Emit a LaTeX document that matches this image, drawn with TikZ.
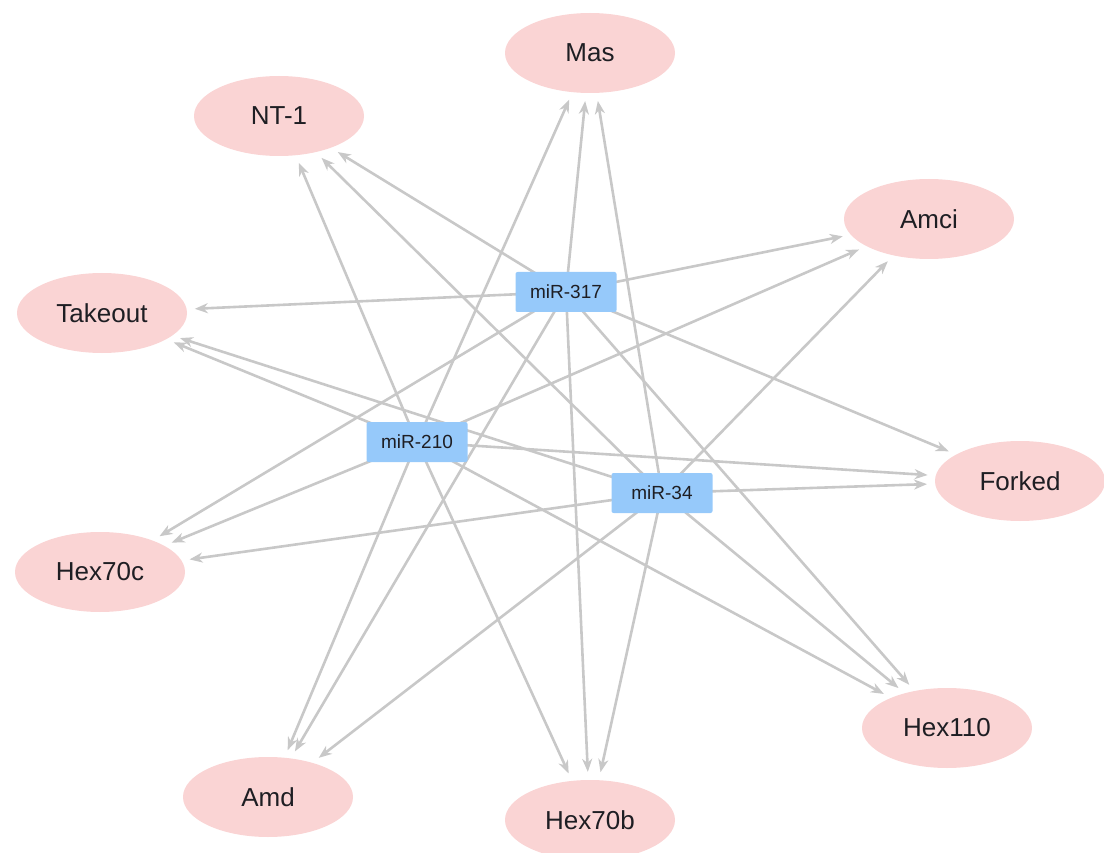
\documentclass[tikz,border=0pt]{standalone}
\usepackage{fontspec}
\setmainfont{Liberation Sans}
\usetikzlibrary{shapes.geometric,arrows.meta}
\definecolor{tgtfill}{RGB}{250,212,212}
\definecolor{mirfill}{RGB}{150,201,250}
\definecolor{edgecol}{RGB}{200,200,200}
\definecolor{txtcol}{RGB}{30,30,35}
\tikzset{
  target/.style={ellipse, fill=tgtfill, minimum width=170pt, minimum height=80pt, inner sep=0pt,
    text=txtcol, font=\fontsize{26}{28}\selectfont},
  mir/.style={rectangle, rounded corners=2pt, fill=mirfill, minimum width=101pt, minimum height=40pt,
    inner sep=0pt, text=txtcol, font=\fontsize{19}{21}\selectfont},
  edge/.style={draw=edgecol, line width=2.6pt, shorten >=8pt,
    -{Stealth[length=13pt,width=10pt,inset=4pt]}},
}
\begin{document}
\begin{tikzpicture}[x=1pt,y=-1pt]
\useasboundingbox (0,0) rectangle (1104,853);
% targets
\node[target] (mas) at (590,53) {Mas};
\node[target] (nt1) at (279,116) {NT-1};
\node[target] (amci) at (929,219) {Amci};
\node[target] (takeout) at (102,313) {Takeout};
\node[target] (forked) at (1020,481) {Forked};
\node[target] (hexc) at (100,572) {Hex70c};
\node[target] (hexa) at (947,728) {Hex110};
\node[target] (amd) at (268,797) {Amd};
\node[target] (hexb) at (590,820) {Hex70b};
% edges
\foreach \m/\mx/\my in {m317/566/292, m210/417/442, m34/662/493}{
  \coordinate (\m) at (\mx,\my);
}
\foreach \m in {m317,m210,m34}{
  \foreach \t in {mas,nt1,amci,takeout,forked,hexc,hexa,amd,hexb}{
    \path[edge] (\m) -- (\t);
  }
}
% mirna boxes
\node[mir] (b317) at (m317) {miR-317};
\node[mir] (b210) at (m210) {miR-210};
\node[mir] (b34) at (m34) {miR-34};
\end{tikzpicture}
\end{document}
